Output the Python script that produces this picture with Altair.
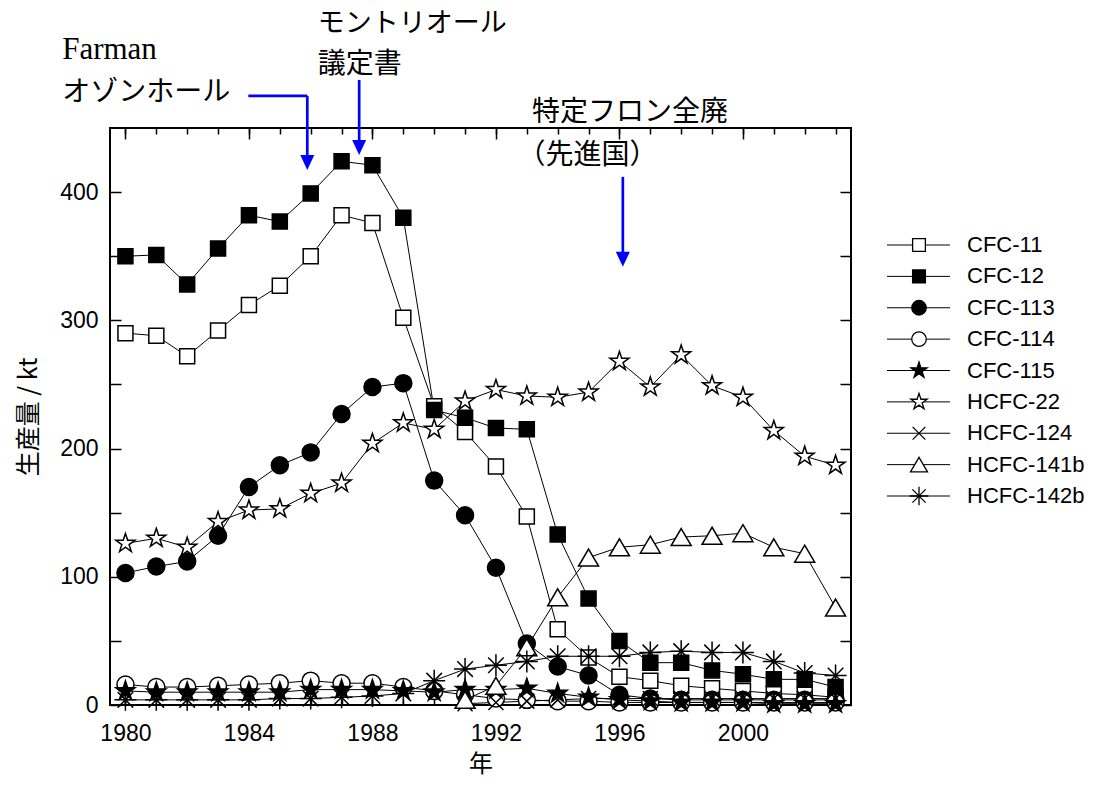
import altair as alt
import pandas as pd

# ---------------- data ----------------
years = list(range(1980, 2004))
series_names = ["CFC-11", "CFC-12", "CFC-113", "CFC-114", "CFC-115",
                "HCFC-22", "HCFC-124", "HCFC-141b", "HCFC-142b"]

cfc11 = [290, 288, 272, 292, 312, 327, 350, 382, 376, 302, 233, 213,
         186, 147, 59, 37, 22, 19, 15, 13, 11, 9, 8, 6]
cfc12 = [350, 351, 328, 356, 382, 377, 399, 424, 421, 380, 230, 224,
         216, 215, 133, 83, 50, 33, 33, 27, 24, 20, 20, 14]
cfc113 = [103, 108, 112, 132, 170, 187, 197, 227, 248, 251, 175, 148,
          107, 48, 30, 23, 8, 5, 4, 4, 4, 4, 4, 4]
cfc114 = [16, 14, 14, 15, 16, 17, 19, 17, 17, 14, 11, 8,
          5, 4, 3, 3, 2, 2, 2, 2, 2, 2, 2, 2]
cfc115 = [11, 10, 10, 10, 10, 10, 12, 12, 12, 11, 10, 12,
          12, 13, 9, 6, 4, 3, 2, 2, 2, 1, 1, 1]
hcfc22 = [126, 130, 123, 143, 152, 153, 165, 173, 204, 220, 215, 237,
          246, 241, 240, 244, 268, 248, 273, 249, 240, 214, 194, 187]
hcfc124 = [None, None, None, None, None, None, None, None, None, None, None, 1,
           2, 3, 4, 5, 5, 5, 5, 5, 5, 5, 5, 5]
hcfc141b = [None, None, None, None, None, None, None, None, None, None, None, 4,
            15, 45, 84, 115, 123, 125, 131, 132, 134, 123, 118, 76]
hcfc142b = [4, 4, 4, 4, 4, 5, 5, 6, 7, 9, 19, 28,
            31, 34, 38, 38, 38, 41, 42, 41, 41, 34, 25, 23]

all_values = [cfc11, cfc12, cfc113, cfc114, cfc115, hcfc22, hcfc124, hcfc141b, hcfc142b]

x_ticks_major = [1980, 1984, 1988, 1992, 1996, 2000]
y_ticks = [0, 50, 100, 150, 200, 250, 300, 350, 400]

# annotations (text, year, value, font size)
note_text = ["Farman", "オゾンホール", "モントリオール", "議定書", "特定フロン全廃", "（先進国）"]
note_x = [1977.95, 1977.95, 1986.23, 1986.23, 1993.17, 1992.7]
note_y = [511, 477, 531, 499.5, 461.5, 428]
note_fs = [31, 28, 27, 28, 28, 28]

# arrow shafts (x, y) -> (x2, y2) and arrow tips
arrow_x = [1983.98, 1985.89, 1987.57, 1996.11]
arrow_y = [475, 475, 487.5, 411.9]
arrow_x2 = [1985.89, 1985.89, 1987.57, 1996.11]
arrow_y2 = [475, 428, 438, 352]
tip_x = [1985.89, 1987.57, 1996.11]
tip_y = [417.3, 429, 341.7]

# ---------------- tables ----------------
rows = []
for name, vals in zip(series_names, all_values):
    for yr, v in zip(years, vals):
        if v is not None:
            rows.append({"year": yr, "value": v, "series": name})
df = pd.DataFrame(rows)
legend_df = pd.DataFrame({"series": series_names})

notes = pd.DataFrame({"x": note_x, "y": note_y, "text": note_text, "fs": note_fs})
arrows = pd.DataFrame({"x": arrow_x, "y": arrow_y, "x2": arrow_x2, "y2": arrow_y2})
tips = pd.DataFrame({"x": tip_x, "y": tip_y})

# ---------------- symbol paths (unit = sqrt(size)/2 px) ----------------
def star(r):
    pts = [(0, -1), (0.2245, -0.309), (0.951, -0.309), (0.363, 0.118), (0.588, 0.809),
           (0, 0.382), (-0.588, 0.809), (-0.363, 0.118), (-0.951, -0.309), (-0.2245, -0.309)]
    return "M" + "L".join(f"{px * r:.3f},{py * r:.3f}" for px, py in pts) + "Z"

def square(h):
    return f"M{-h},{-h}L{h},{-h}L{h},{h}L{-h},{h}Z"

def circle(r):
    return f"M{r},0A{r},{r} 0 1,1 {-r},0A{r},{r} 0 1,1 {r},0Z"

def xmark(h):
    return f"M{-h},{-h}L{h},{h}M{-h},{h}L{h},{-h}"

def tri(w, h):
    return f"M0,{-h}L{w},{h}L{-w},{h}Z"

def asterisk(r):
    d = r * 0.707
    return f"M{-r},0L{r},0M0,{-r}L0,{r}M{-d},{-d}L{d},{d}M{-d},{d}L{d},{-d}"

plot_paths = [square(0.75), square(0.75), circle(0.85), circle(0.85), star(1.0),
              star(1.0), xmark(0.75), tri(1.0, 0.85), asterisk(1.1)]
fills = ["white", "black", "black", "white", "black", "white", "white", "white", "white"]

# ---------------- scales & axes ----------------
xs = alt.Scale(domain=[1979.5, 2003.5], nice=False, zero=False)
ys = alt.Scale(domain=[0, 450], nice=False)
shape_scale = alt.Scale(domain=series_names, range=plot_paths)
fill_scale = alt.Scale(domain=series_names, range=fills)
leg_y = alt.Scale(type="point", domain=series_names, range=[117, 368], padding=0)

TICK_FONT = "Liberation Sans"
JP_FONT = "Noto Sans CJK JP"

common = dict(domain=False, grid=False, tickColor="black", tickWidth=1.5,
              labelColor="black", labelFont=TICK_FONT, labelFontSize=23, labelFlush=False)

ax_bottom_major = alt.Axis(orient="bottom", values=x_ticks_major, format="d", offset=-11, tickSize=11,
                           labelPadding=17, title="年", titleFont=JP_FONT, titleFontSize=24,
                           titleFontWeight="normal", titleColor="black", titlePadding=7, **common)
ax_bottom_minor = alt.Axis(orient="bottom", values=years, offset=-6, tickSize=6, labels=False,
                           title=None, **common)
ax_top_major = alt.Axis(orient="top", values=x_ticks_major, offset=-11, tickSize=11, labels=False,
                        title=None, **common)
ax_top_minor = alt.Axis(orient="top", values=years, offset=-6, tickSize=6, labels=False,
                        title=None, **common)
ax_left = alt.Axis(orient="left", values=y_ticks, offset=-11, tickSize=11, labelPadding=12,
                   labelExpr="datum.value % 100 === 0 ? datum.label : ''",
                   title="生産量 / kt", titleFont=JP_FONT, titleFontSize=25,
                   titleFontWeight="normal", titleColor="black", titlePadding=18, **common)
ax_right = alt.Axis(orient="right", values=y_ticks, offset=-11, tickSize=11, labels=False,
                    title=None, **common)

# ---------------- layers ----------------
lines = alt.Chart(df).mark_line(color="black", strokeWidth=1).encode(
    x=alt.X("year:Q", scale=xs, axis=ax_bottom_major),
    y=alt.Y("value:Q", scale=ys, axis=ax_left),
    detail="series:N",
)

points = alt.Chart(df).mark_point(filled=True, stroke="black", strokeWidth=1.5,
                                  opacity=1, size=400).encode(
    x=alt.X("year:Q", scale=xs, axis=ax_bottom_minor),
    y=alt.Y("value:Q", scale=ys, axis=ax_right),
    shape=alt.Shape("series:N", scale=shape_scale, legend=None),
    fill=alt.Fill("series:N", scale=fill_scale, legend=None),
)

arrow_lines = alt.Chart(arrows).mark_rule(color="#0000ff", strokeWidth=2.7).encode(
    x=alt.X("x:Q", scale=xs, axis=ax_top_major),
    y=alt.Y("y:Q", scale=ys, axis=None),
    x2="x2:Q",
    y2="y2:Q",
)

arrow_heads = alt.Chart(tips).mark_point(
    filled=True, color="#0000ff", opacity=1, size=400,
    shape="M-0.7,-1.5L0.7,-1.5L0,0Z").encode(
    x=alt.X("x:Q", scale=xs, axis=ax_top_minor),
    y=alt.Y("y:Q", scale=ys, axis=None),
)

texts = alt.Chart(notes).mark_text(align="left", baseline="middle", color="black",
                                   font="Liberation Serif, Noto Sans CJK JP").encode(
    x=alt.X("x:Q", scale=xs, axis=None),
    y=alt.Y("y:Q", scale=ys, axis=None),
    text="text:N",
    size=alt.Size("fs:Q", scale=None),
)

# legend drawn as marks, positioned by a point scale over the series names
leg_lines = alt.Chart(legend_df).mark_rule(color="black", strokeWidth=1).encode(
    y=alt.Y("series:N", scale=leg_y, axis=None),
    x=alt.value(777), x2=alt.value(840),
)
leg_points = alt.Chart(legend_df).mark_point(filled=True, stroke="black", strokeWidth=1.3,
                                             opacity=1, size=290).encode(
    y=alt.Y("series:N", scale=leg_y, axis=None),
    x=alt.value(809),
    shape=alt.Shape("series:N", scale=shape_scale, legend=None),
    fill=alt.Fill("series:N", scale=fill_scale, legend=None),
)
leg_text = alt.Chart(legend_df).mark_text(align="left", baseline="middle", color="black",
                                          font=TICK_FONT, fontSize=22).encode(
    y=alt.Y("series:N", scale=leg_y, axis=None),
    x=alt.value(857),
    text="series:N",
)

chart = alt.layer(lines, points, arrow_lines, arrow_heads, texts,
                  leg_lines, leg_points, leg_text).resolve_scale(
    y="independent", shape="independent", fill="independent"
).resolve_axis(
    x="independent", y="independent"
).properties(
    width=741, height=577,
    autosize=alt.AutoSizeParams(type="none"),
    padding={"left": 102, "top": 120, "right": 246, "bottom": 74},
    background="white",
).configure_view(stroke="black", strokeWidth=2)

chart.save("out.html", embed_options={"renderer": "svg", "actions": False})
